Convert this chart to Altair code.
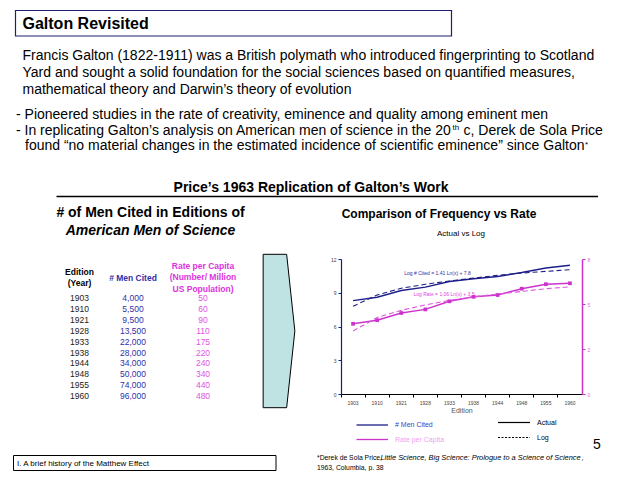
import altair as alt
import pandas as pd

# ---------------- data ----------------
editions = ["1903", "1910", "1921", "1928", "1933", "1938", "1944", "1948", "1955", "1960"]
men_cited = [4000, 5500, 9500, 13500, 22000, 28000, 34000, 50000, 74000, 96000]
rate_per_capita = [50, 60, 90, 110, 175, 220, 240, 340, 440, 480]

# values as plotted
log_cited_actual = [8.3, 8.6, 9.2, 9.5, 10.0, 10.25, 10.45, 10.8, 11.2, 11.45]
log_cited_fit = [7.8, 8.8, 9.4, 9.75, 10.05, 10.3, 10.55, 10.75, 10.9, 11.05]
log_rate_actual = [3.9, 4.1, 4.5, 4.7, 5.15, 5.4, 5.5, 5.85, 6.1, 6.15]
log_rate_fit = [3.5, 4.25, 4.65, 4.95, 5.2, 5.4, 5.55, 5.7, 5.85, 5.95]

left_ticks = [0, 3, 6, 9, 12]
right_ticks = [0, 2.5, 5, 7.5]
right_tick_labels = ["0", "2", "5", "8"]

FONT = "Liberation Sans"
NAVY = "#1E1E8C"
PINK = "#CC33CC"
PINK_LIGHT = "#DD55DD"

OX, OY = 341, 259  # page position of the plot area origin
ONE = alt.Data(values=[{"k": 1}])

df = pd.DataFrame({
    "Edition": editions,
    "cited": log_cited_actual,
    "cited_fit": log_cited_fit,
    "rate": log_rate_actual,
    "rate_fit": log_rate_fit,
})

band = alt.Scale(type="band", paddingInner=0, paddingOuter=0)
x_axis = alt.Axis(bandPosition=0, labelAngle=0, labelFontSize=5, labelFont=FONT,
                  labelColor="#444444", domainColor="black", tickColor="black",
                  tickSize=3, labelPadding=3, title="Edition", titleFont=FONT,
                  titleFontSize=7, titleFontWeight="normal", titleColor="#555555",
                  titlePadding=1)
x_enc = alt.X("Edition:N", sort=None, bandPosition=0.5, scale=band, axis=x_axis)

yl_scale = alt.Scale(domain=[0, 12], nice=False)
yr_scale = alt.Scale(domain=[0, 7.5], nice=False)

label_expr = " : ".join(
    "datum.value == {} ? '{}'".format(v, s) for v, s in zip(right_ticks[:-1], right_tick_labels[:-1])
) + " : '{}'".format(right_tick_labels[-1])

base = alt.Chart(df)
blue_line = base.mark_line(color=NAVY, strokeWidth=1.4).encode(
    x=x_enc,
    y=alt.Y("cited:Q", scale=yl_scale,
            axis=alt.Axis(values=left_ticks, title=None, grid=False, labelFontSize=5,
                          labelFont=FONT, labelColor="#444444", domainColor="#1A1A80",
                          tickColor="#1A1A80", tickSize=3, labelPadding=2, domainWidth=1.2)),
)
blue_fit = base.mark_line(color=NAVY, strokeWidth=1.1, strokeDash=[5, 3]).encode(
    x=x_enc, y=alt.Y("cited_fit:Q", scale=yl_scale, axis=None))
pink_line = base.mark_line(color=PINK, strokeWidth=1.4).encode(
    x=x_enc,
    y=alt.Y("rate:Q", scale=yr_scale,
            axis=alt.Axis(orient="right", values=right_ticks, labelExpr=label_expr, title=None,
                          grid=False, labelFontSize=5, labelFont=FONT, labelColor="#DD66DD",
                          domainColor=PINK, tickColor=PINK, tickSize=3, labelPadding=2,
                          domainWidth=1.5)),
)
pink_fit = base.mark_line(color=PINK_LIGHT, strokeWidth=1.1, strokeDash=[5, 3]).encode(
    x=x_enc, y=alt.Y("rate_fit:Q", scale=yr_scale, axis=None))
pink_pts = base.mark_point(shape="square", filled=True, color=PINK, size=14, opacity=1).encode(
    x=x_enc, y=alt.Y("rate:Q", scale=yr_scale, axis=None))


def txt(s, x, y, size=14, weight="normal", style="normal", color="black",
        align="left", baseline="alphabetic"):
    return alt.Chart(ONE).mark_text(
        text=s, fontSize=size, fontWeight=weight, fontStyle=style, color=color,
        align=align, baseline=baseline, font=FONT,
    ).encode(x=alt.value(x - OX), y=alt.value(y - OY))


def rule(x1, x2, y, color="black", width=1.0, dash=None):
    kw = dict(color=color, strokeWidth=width)
    if dash:
        kw["strokeDash"] = dash
    return alt.Chart(ONE).mark_rule(**kw).encode(
        x=alt.value(x1 - OX), x2=alt.value(x2 - OX), y=alt.value(y - OY))


def box(x1, x2, y1, y2, color="black", width=1.0):
    return alt.Chart(ONE).mark_rect(fillOpacity=0, stroke=color, strokeWidth=width).encode(
        x=alt.value(x1 - OX), x2=alt.value(x2 - OX), y=alt.value(y1 - OY), y2=alt.value(y2 - OY))


layers = [blue_line, blue_fit, pink_line, pink_fit, pink_pts]
# title box
layers.append(box(15.5, 451.5, 10.5, 36, color="#1F1F70", width=1.2))
layers.append(txt("Galton Revisited", 22.5, 29, size=16, weight="bold"))
# paragraph
layers.append(txt("Francis Galton (1822-1911) was a British polymath who introduced fingerprinting to Scotland", 22.5, 60))
layers.append(txt("Yard and sought a solid foundation for the social sciences based on quantified measures,", 22.5, 77))
layers.append(txt("mathematical theory and Darwin\u2019s theory of evolution", 22.5, 94))
layers.append(txt("- Pioneered studies in the rate of creativity, eminence and quality among eminent men", 16, 119))
layers.append(txt("- In replicating Galton\u2019s analysis on American men of science in the 20", 16, 135))
layers.append(txt("th", 452.5, 130, size=8))
layers.append(txt("c, Derek de Sola Price", 463.5, 135))
layers.append(txt("found \u201cno material changes in the estimated incidence of scientific eminence\u201d since Galton", 25, 150))
layers.append(txt("*", 585, 147, size=8))
# section title
layers.append(txt("Price\u2019s 1963 Replication of Galton\u2019s Work", 311, 192, size=14, weight="bold", align="center"))
layers.append(rule(56.5, 598, 196.5, width=1.5))
# left heading
layers.append(txt("# of Men Cited in Editions of", 150.5, 217, size=14, weight="bold", align="center"))
layers.append(txt("American Men of Science", 150.5, 235, size=14, weight="bold", style="italic", align="center"))
# right heading
layers.append(txt("Comparison of Frequency vs Rate", 439, 218, size=12, weight="bold", align="center"))
layers.append(txt("Actual vs Log", 461, 236, size=8, align="center"))
# table headers
layers.append(txt("Edition", 79.5, 271.5, size=8.5, weight="bold", align="center", baseline="middle"))
layers.append(txt("(Year)", 79.5, 282.5, size=8.5, weight="bold", align="center", baseline="middle"))
layers.append(txt("# Men Cited", 133, 277.5, size=8.5, weight="bold", color="#3030A8", align="center", baseline="middle"))
layers.append(txt("Rate per Capita", 203, 265.5, size=8.5, weight="bold", color="#DD33DD", align="center", baseline="middle"))
layers.append(txt("(Number/ Million", 203, 277, size=8.5, weight="bold", color="#DD33DD", align="center", baseline="middle"))
layers.append(txt("US Population)", 203, 288.5, size=8.5, weight="bold", color="#DD33DD", align="center", baseline="middle"))

# table rows
tdf = pd.DataFrame({"year": editions, "men": men_cited, "rate": rate_per_capita, "row": list(range(len(editions)))})
tbase = alt.Chart(tdf).transform_calculate(ty="datum.row * 10.9 + (298 - {})".format(OY))
for field, xpos, color, fmt in [("year:N", 79.5, "#222222", None), ("men:Q", 133, "#3030A8", ","), ("rate:Q", 203, "#E055E0", "d")]:
    tx = alt.Text(field, format=fmt) if fmt else alt.Text(field)
    layers.append(tbase.mark_text(fontSize=8.5, font=FONT, color=color, align="center", baseline="middle").encode(
        x=alt.value(xpos - OX), y=alt.Y("ty:Q", scale=None), text=tx))

# arrow chevron
layers.append(alt.Chart(ONE).mark_point(
    shape="M -0.2067 -1 L 0.0997 -1 L 0.2067 0 L 0.0997 1 L -0.2067 1 Z",
    size=23532, filled=True, fill="#BFE3E3", stroke="black", strokeWidth=1, opacity=1,
).encode(x=alt.value(279 - OX), y=alt.value(331 - OY)))

# chart annotations
layers.append(txt("Log # Cited = 1.41 Ln(x) + 7.8", 437.5, 272.5, size=5, color="#3030A8", align="center", baseline="middle"))
layers.append(txt("Log Rate = 1.06 Ln(x) + 3.5", 444, 293.5, size=5, color="#DD44DD", align="center", baseline="middle"))

# legend
layers.append(rule(356.5, 388, 425, color=NAVY, width=1.3))
layers.append(txt("# Men Cited", 395, 425, size=7, color="#4040C0", baseline="middle"))
layers.append(rule(356.5, 388, 439.5, color=PINK, width=1.3))
layers.append(txt("Rate per Capita", 395, 439.5, size=7, color="#F0A0F0", baseline="middle"))
layers.append(rule(498, 530, 422.5, color="black", width=1.2))
layers.append(txt("Actual", 537, 422.5, size=7, baseline="middle"))
layers.append(rule(498, 530, 437.5, color="black", width=1.2, dash=[2, 1.5]))
layers.append(txt("Log", 537, 437.5, size=7, baseline="middle"))

# page number
layers.append(txt("5", 597, 445, size=14, align="center", baseline="middle"))

# bottom box
layers.append(box(13.5, 276, 455.5, 470.5, color="black", width=1.0))
layers.append(txt("I. A brief history of the Matthew Effect", 17, 463.5, size=8, baseline="middle"))

# footnote
layers.append(txt("*Derek de Sola Price,", 317, 459.5, size=6.8))
layers.append(txt("Little Science, Big Science: Prologue to a Science of Science", 380.5, 459.5, size=7.4, style="italic"))
layers.append(txt(",", 581.5, 459.5, size=6.8))
layers.append(txt("1963, Columbia, p. 38", 317, 469.5, size=6.8))

chart = alt.layer(*layers).resolve_scale(y="independent").properties(
    width=241, height=135,
    padding={"left": OX - 8, "top": OY - 8, "right": 630 - (OX + 241), "bottom": 471 - (OY + 135)},
    autosize=alt.AutoSizeParams(type="none"),
    background="white",
).configure_view(stroke="transparent")

chart.save("out.html", embed_options={"renderer": "svg", "actions": False})
